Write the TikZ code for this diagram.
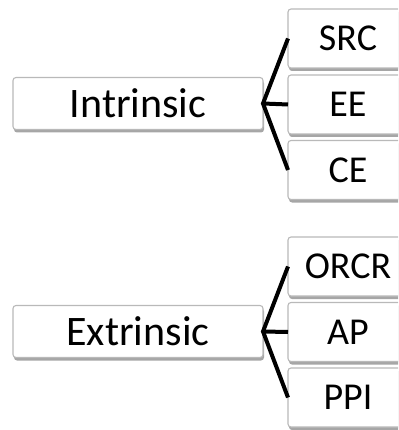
\documentclass[tikz,border=0pt]{standalone}
\usepackage{fontspec}
\setmainfont{Carlito}
\usetikzlibrary{shadows}
\begin{document}
\begin{tikzpicture}[x=1pt,y=-1pt,
  box/.style={draw=gray!55,line width=1.1pt,fill=white,rounded corners=3pt,
    inner sep=0pt,outer sep=0pt,
    drop shadow={shadow xshift=1pt,shadow yshift=-3pt,fill=black!50,opacity=0.7}},
  mainbox/.style={box,minimum width=250pt,minimum height=52pt,font=\fontsize{42}{50}\selectfont},
  subbox/.style={box,minimum width=120pt,minimum height=59pt,font=\fontsize{38}{45}\selectfont},
  brace/.style={line width=4pt,black}]
\useasboundingbox (0,0) rectangle (398,430);
\clip (0,0) rectangle (398,430);
\node[mainbox] (intr) at (138,103.5) {Intrinsic};
\node[subbox] (src) at (348,38.5) {SRC};
\node[subbox] (ee) at (348,104.5) {EE};
\node[subbox] (ce) at (348,170) {CE};
\node[mainbox] (extr) at (138,331.5) {Extrinsic};
\node[subbox] (orcr) at (348,266.5) {ORCR};
\node[subbox] (ap) at (348,332) {AP};
\node[subbox] (ppi) at (348,397.5) {PPI};
\draw[brace] (src.west) -- (intr.east) -- (ce.west);
\draw[brace] (intr.east) -- (ee.west);
\draw[brace] (orcr.west) -- (extr.east) -- (ppi.west);
\draw[brace] (extr.east) -- (ap.west);
\end{tikzpicture}
\end{document}
